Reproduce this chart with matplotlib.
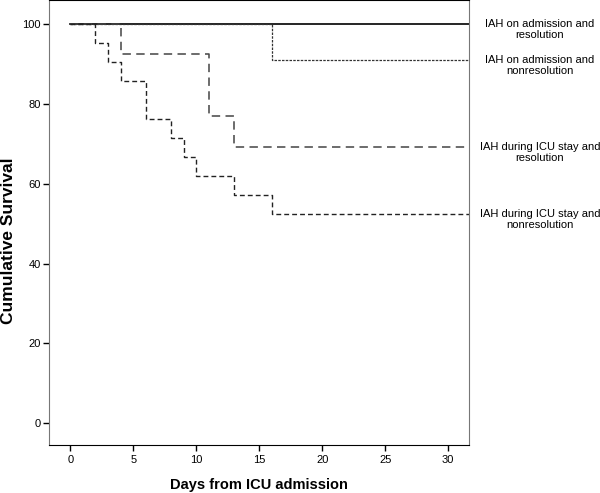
import matplotlib
matplotlib.use("Agg")
import matplotlib.pyplot as plt

plt.rcParams['font.family'] = ['Liberation Sans', 'DejaVu Sans']

# Kaplan-Meier step data (days, cumulative survival %)
adm_res_days = [0, 32]
adm_res_surv = [100, 100]

adm_nonres_days = [0, 16, 32]
adm_nonres_surv = [100, 90.9, 90.9]

icu_res_days = [0, 4, 11, 13, 32]
icu_res_surv = [100, 92.3, 76.9, 69.2, 69.2]

icu_nonres_days = [0, 2, 3, 4, 6, 8, 9, 10, 13, 16, 32]
icu_nonres_surv = [100, 95.2, 90.5, 85.7, 76.2, 71.4, 66.7, 61.9, 57.1, 52.4, 52.4]

labels = ["IAH on admission and\nresolution",
          "IAH on admission and\nnonresolution",
          "IAH during ICU stay and\nresolution",
          "IAH during ICU stay and\nnonresolution"]

fig = plt.figure(figsize=(6, 4.93), dpi=100)
ax = fig.add_axes([0.081, 0.0974, 0.701, 0.9016])

ax.step(adm_res_days, adm_res_surv, where='post', color='black', lw=1.2)
ax.step(adm_nonres_days, adm_nonres_surv, where='post', color='#333333', lw=0.9,
        dashes=(2, 1))
ax.step(icu_res_days, icu_res_surv, where='post', color='#444444', lw=1.1,
        dashes=(5.5, 3.5))
ax.step(icu_nonres_days, icu_nonres_surv, where='post', color='#222222', lw=1.0,
        dashes=(3.5, 2.2))

ax.set_xlim(-1.72, 31.67)
ax.set_ylim(-5.4, 105.8)
ax.set_xticks(range(0, 31, 5))
ax.set_yticks(range(0, 101, 20))
ax.tick_params(axis='x', direction='out', length=4, width=1, labelsize=8, pad=3)
ax.tick_params(axis='y', direction='out', length=4, width=1, labelsize=8, pad=1.5)

ax.spines['left'].set_color('#777777')
ax.spines['right'].set_color('#777777')

# legend-style labels at right
ends = [adm_res_surv[-1], adm_nonres_surv[-1], icu_res_surv[-1], icu_nonres_surv[-1]]
for lab, y in zip(labels, ends):
    ax.annotate(lab, xy=(1.168, y), xycoords=('axes fraction', 'data'),
                xytext=(0, 3.5), textcoords='offset points',
                ha='center', va='top', fontsize=8, linespacing=1.1,
                annotation_clip=False)

ax.set_xlabel("Days from ICU admission", fontsize=10.5, fontweight='bold')
ax.xaxis.set_label_coords(0.5, -0.074)
ax.set_ylabel("Cumulative Survival", fontsize=12.5, fontweight='bold')
ax.yaxis.set_label_coords(-0.078, 0.46)

fig.savefig("out.png", dpi=100)
